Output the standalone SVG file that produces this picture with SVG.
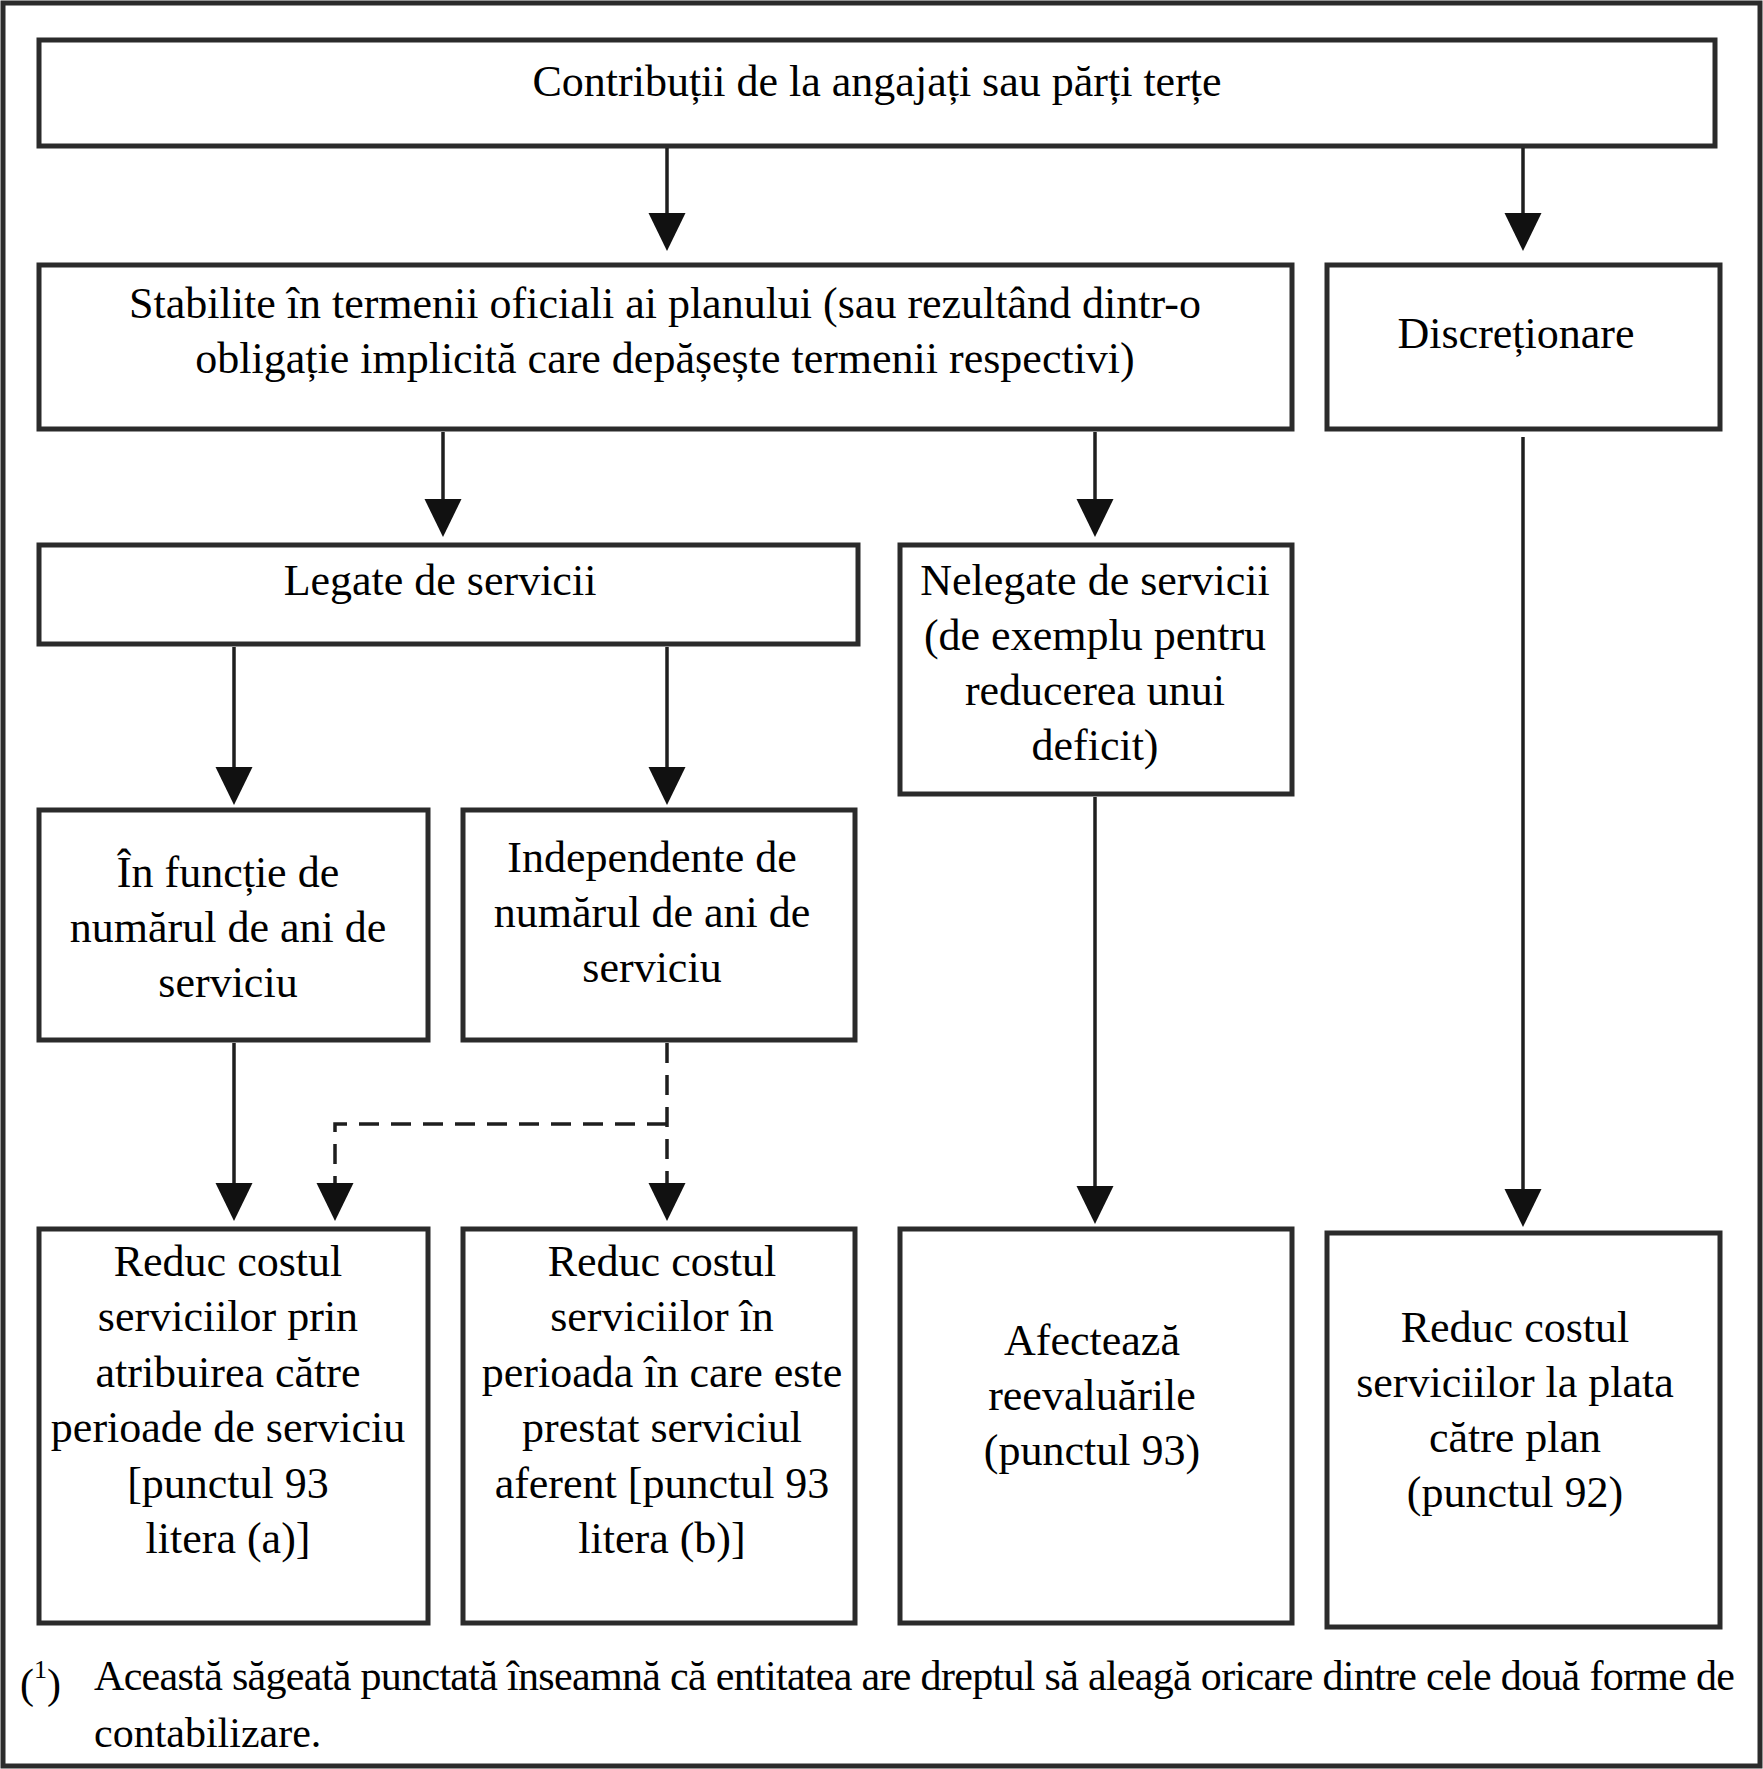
<svg xmlns="http://www.w3.org/2000/svg" width="1763" height="1769" viewBox="0 0 1763 1769">
<style>
.box{fill:#fff;stroke:#2b2b2b;stroke-width:5}
.t{font-family:"Liberation Serif","Times New Roman",serif;font-size:44px;fill:#000;text-anchor:middle}
.fn{font-family:"Liberation Serif","Times New Roman",serif;font-size:42px;fill:#000}
.c{fill:none;stroke:#1e1e1e;stroke-width:3.5}
.d{stroke-dasharray:20 12}
</style>
<defs>
<marker id="ah" markerUnits="userSpaceOnUse" markerWidth="40" markerHeight="40" viewBox="0 -20 40 40" refX="2" refY="0" orient="auto">
<path d="M0,-18.5 L38,0 L0,18.5 Z" fill="#111"/>
</marker>
</defs>
<rect x="3" y="3" width="1757" height="1763" fill="#fff" stroke="#2b2b2b" stroke-width="5"/>

<g id="n-contributii">
<rect class="box" x="39" y="40" width="1676" height="106"/>
<text class="t" x="877" y="96">Contribuții de la angajați sau părți terțe</text>
</g>
<g id="n-stabilite">
<rect class="box" x="39" y="265" width="1253" height="164"/>
<text class="t" x="665" y="318">Stabilite în termenii oficiali ai planului (sau rezultând dintr-o</text>
<text class="t" x="665" y="373">obligație implicită care depășește termenii respectivi)</text>
</g>
<g id="n-discretionare">
<rect class="box" x="1327" y="265" width="393" height="164"/>
<text class="t" x="1516" y="348">Discreționare</text>
</g>
<g id="n-legate">
<rect class="box" x="39" y="545" width="819" height="99"/>
<text class="t" x="440" y="595">Legate de servicii</text>
</g>
<g id="n-nelegate">
<rect class="box" x="900" y="545" width="392" height="249"/>
<text class="t" x="1095" y="595">Nelegate de servicii</text>
<text class="t" x="1095" y="650">(de exemplu pentru</text>
<text class="t" x="1095" y="705">reducerea unui</text>
<text class="t" x="1095" y="760">deficit)</text>
</g>
<g id="n-functie">
<rect class="box" x="39" y="810" width="389" height="230"/>
<text class="t" x="228" y="887">În funcție de</text>
<text class="t" x="228" y="942">numărul de ani de</text>
<text class="t" x="228" y="997">serviciu</text>
</g>
<g id="n-independente">
<rect class="box" x="463" y="810" width="392" height="230"/>
<text class="t" x="652" y="872">Independente de</text>
<text class="t" x="652" y="927">numărul de ani de</text>
<text class="t" x="652" y="982">serviciu</text>
</g>
<g id="n-reduc-a">
<rect class="box" x="39" y="1229" width="389" height="394"/>
<text class="t" x="228" y="1276">Reduc costul</text>
<text class="t" x="228" y="1331">serviciilor prin</text>
<text class="t" x="228" y="1387">atribuirea către</text>
<text class="t" x="228" y="1442">perioade de serviciu</text>
<text class="t" x="228" y="1498">[punctul 93</text>
<text class="t" x="228" y="1553">litera (a)]</text>
</g>
<g id="n-reduc-b">
<rect class="box" x="463" y="1229" width="392" height="394"/>
<text class="t" x="662" y="1276">Reduc costul</text>
<text class="t" x="662" y="1331">serviciilor în</text>
<text class="t" x="662" y="1387">perioada în care este</text>
<text class="t" x="662" y="1442">prestat serviciul</text>
<text class="t" x="662" y="1498">aferent [punctul 93</text>
<text class="t" x="662" y="1553">litera (b)]</text>
</g>
<g id="n-afecteaza">
<rect class="box" x="900" y="1229" width="392" height="394"/>
<text class="t" x="1092" y="1355">Afectează</text>
<text class="t" x="1092" y="1410">reevaluările</text>
<text class="t" x="1092" y="1465">(punctul 93)</text>
</g>
<g id="n-reduc-plan">
<rect class="box" x="1327" y="1233" width="393" height="394"/>
<text class="t" x="1515" y="1342">Reduc costul</text>
<text class="t" x="1515" y="1397">serviciilor la plata</text>
<text class="t" x="1515" y="1452">către plan</text>
<text class="t" x="1515" y="1507">(punctul 92)</text>
</g>

<g id="connectors">
<line class="c" x1="667" y1="148" x2="667" y2="215" marker-end="url(#ah)"/>
<line class="c" x1="1523" y1="148" x2="1523" y2="215" marker-end="url(#ah)"/>
<line class="c" x1="443" y1="432" x2="443" y2="501" marker-end="url(#ah)"/>
<line class="c" x1="1095" y1="432" x2="1095" y2="501" marker-end="url(#ah)"/>
<line class="c" x1="234" y1="647" x2="234" y2="769" marker-end="url(#ah)"/>
<line class="c" x1="667" y1="647" x2="667" y2="769" marker-end="url(#ah)"/>
<line class="c" x1="1095" y1="797" x2="1095" y2="1188" marker-end="url(#ah)"/>
<line class="c" x1="1523" y1="437" x2="1523" y2="1191" marker-end="url(#ah)"/>
<line class="c" x1="234" y1="1043" x2="234" y2="1185" marker-end="url(#ah)"/>
<path class="c d" d="M667,1043 V1185" marker-end="url(#ah)"/>
<path class="c d" d="M667,1124 H335 V1185" marker-end="url(#ah)"/>
</g>

<g id="footnote">
<text class="fn" x="20" y="1698">(<tspan font-size="26" dy="-20">1</tspan><tspan dy="20">)</tspan></text>
<text class="fn" x="94" y="1690" textLength="1641" lengthAdjust="spacing">Această săgeată punctată înseamnă că entitatea are dreptul să aleagă oricare dintre cele două forme de</text>
<text class="fn" x="94" y="1747">contabilizare.</text>
</g>
</svg>
